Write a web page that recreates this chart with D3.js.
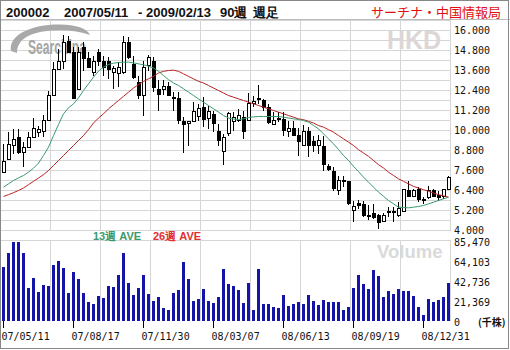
<!DOCTYPE html>
<html><head><meta charset="utf-8">
<script src="https://cdn.jsdelivr.net/npm/d3@7"></script>
<style>body{margin:0;background:#fff}svg{display:block}</style>
</head><body><svg id="c" width="510" height="350"></svg>
<script>
// ---- data ----
const opens  = [7.54,8.3,9.16,9.6,8.7,9.04,9.64,9.9,10.0,10.66,12.16,13.7,14.2,15.36,14.7,12.5,15.04,14.36,13.5,14.7,14.2,14.2,13.5,13.44,13.5,15.3,14.0,12.9,12.16,13.9,
                14.2,12.5,12.5,12.7,12.04,11.96,10.6,10.44,10.6,10.9,11.44,10.76,10.96,10.0,8.76,9.84,10.6,10.66,10.8,10.64,11.64,11.96,11.84,11.44,10.4,10.7,10.7,10.0,10.16,9.76,
                9.16,10.0,9.36,9.16,9.1,7.9,7.6,6.4,6.96,7.0,5.24,5.64,5.6,4.88,5.04,4.9,4.6,5.1,5.1,4.9,5.2,6.44,6.1,6.5,5.9,6.0,6.4,6.16,6.1,6.5];
const highs  = [9.2,9.9,10.1,10.1,9.3,9.9,10.74,10.3,10.94,12.4,14.1,14.9,15.76,15.7,15.0,15.0,15.3,14.7,14.5,14.9,14.5,14.4,13.9,14.1,15.7,15.6,14.5,13.3,14.16,14.54,
                14.4,13.04,13.04,12.9,12.3,12.3,10.8,10.6,11.7,11.6,12.0,11.5,11.2,10.4,9.8,11.1,11.1,11.3,11.2,12.24,12.1,12.74,11.9,11.6,11.1,11.1,11.1,10.6,10.6,10.16,
                10.36,10.24,9.7,9.76,9.7,8.0,7.8,7.3,7.3,7.0,5.8,5.84,5.8,5.56,5.6,5.0,5.04,5.4,5.4,5.7,6.5,7.0,6.5,6.6,6.0,6.7,6.5,6.4,6.5,7.3];
const lows   = [7.54,8.3,8.6,8.6,7.8,9.0,9.64,9.64,9.6,10.66,12.16,13.7,13.7,14.7,11.96,12.5,13.6,13.8,13.3,13.9,13.3,13.1,12.5,12.6,13.4,14.3,13.1,11.9,10.9,13.6,
                12.3,11.2,12.16,12.16,11.2,10.4,8.64,9.1,10.6,10.6,10.2,10.1,9.9,9.1,7.96,9.7,10.0,10.5,9.5,10.6,11.4,11.6,11.2,10.4,10.36,10.5,9.7,9.64,9.7,8.5,
                9.16,8.44,8.7,8.6,7.6,7.6,6.4,6.16,6.6,5.56,4.5,5.3,4.8,4.66,4.7,4.1,4.5,4.8,4.5,4.8,5.2,6.0,6.0,5.7,5.6,5.9,6.0,5.8,5.9,6.5];
const closes = [8.2,9.2,9.5,8.7,9.04,9.64,10.16,10.1,10.66,12.16,13.7,14.2,15.3,14.7,11.96,14.7,14.36,13.84,14.2,14.16,13.8,13.7,13.74,13.84,15.3,14.4,13.2,12.16,13.84,14.44,
                12.6,12.2,12.7,12.16,11.96,10.66,10.4,10.56,11.16,11.36,10.7,11.2,10.44,9.44,9.64,11.04,10.84,10.94,9.96,11.64,11.8,11.88,11.44,10.5,10.66,10.76,10.04,10.14,9.76,9.36,
                10.0,9.16,9.16,9.44,7.96,7.7,6.56,7.04,7.04,5.64,5.5,5.54,4.9,4.96,4.84,4.5,4.9,5.2,5.2,5.34,6.5,6.1,6.44,5.9,5.8,6.4,6.1,6.04,6.5,7.24];
const ma13 = [6.6,6.8,7.0,7.16,7.3,7.5,7.74,8.04,8.5,9.0,9.7,10.36,11.0,11.36,11.6,11.96,12.4,12.8,13.2,13.56,13.8,13.96,14.04,14.08,14.1,14.1,14.06,14.0,13.94,13.86,
              13.75,13.55,13.3,13.05,12.85,12.7,12.5,12.3,12.1,11.9,11.7,11.5,11.3,11.1,10.9,10.75,10.68,10.66,10.7,10.78,10.82,10.84,10.84,10.84,10.84,10.84,10.8,10.75,10.7,10.66,
              10.6,10.5,10.3,10.1,9.8,9.5,9.2,8.86,8.5,8.2,7.85,7.54,7.2,6.9,6.6,6.3,6.05,5.8,5.6,5.4,5.38,5.36,5.4,5.44,5.5,5.6,5.7,5.8,5.9,6.0];
const ma26 = [6.04,6.15,6.27,6.4,6.55,6.75,6.95,7.15,7.35,7.6,7.9,8.2,8.5,8.8,9.1,9.4,9.7,10.05,10.45,10.75,11.0,11.3,11.55,11.8,12.05,12.3,12.55,12.75,12.95,13.1,
              13.25,13.45,13.55,13.6,13.62,13.55,13.4,13.25,13.1,12.95,12.85,12.7,12.55,12.4,12.25,12.1,12.0,11.9,11.8,11.7,11.6,11.5,11.4,11.3,11.2,11.1,11.0,10.9,10.8,10.7,
              10.65,10.55,10.45,10.3,10.2,10.05,9.9,9.7,9.5,9.3,9.1,8.85,8.65,8.45,8.2,7.95,7.75,7.5,7.3,7.1,6.95,6.8,6.65,6.55,6.45,6.35,6.25,6.15,6.08,6.0];
const volumes = [57700,72300,84800,84800,72300,35600,46300,31000,38500,37400,59800,64100,56300,30300,52400,45200,30300,20300,17800,26700,24900,37400,36700,49100,73000,40200,27800,35600,49100,29200,
                 21400,25600,14200,11800,29600,33100,63400,45200,21400,23900,34500,21400,19600,25600,55900,39900,37400,33500,19200,41000,12100,55900,17800,18500,15300,14200,27800,16000,18500,20300,
                 18500,27800,21400,17100,22400,20300,20700,20300,11800,15000,35600,49100,39200,34500,54500,48100,26000,32100,29200,34500,32100,32100,26700,15300,6400,23100,20700,22400,25600,40200];
const priceTicks  = [4,5.2,6.4,7.6,8.8,10,11.2,12.4,13.6,14.8,16];
const volumeTicks = [0,21369,42736,64103,85470];
const dateLabels  = ["07/05/11","07/08/17","07/11/30","08/03/07","08/06/13","08/09/19","08/12/31"];
const dateIndex   = [0,14,28,42,56,70,84];

// ---- drawing ----
const svg = d3.select('#c');
const mono = '"DejaVu Sans Mono", monospace';
const sans = '"Liberation Sans", Arial, sans-serif';
const cjk = '"Noto Sans CJK JP", sans-serif';

const x = d3.scaleLinear().domain([0, closes.length-1]).range([3.5, 3.5 + 5*(closes.length-1)]);
const y = d3.scaleLinear().domain([4,16]).range([230.5,30.5]);
const v = d3.scaleLinear().domain([0,85470]).range([321,241]);

svg.append('rect').attr('width',510).attr('height',350).attr('fill','#fff');

// grid
const grid = svg.append('g').attr('stroke','#d6d6d6').attr('stroke-width',1).attr('shape-rendering','crispEdges');
d3.range(0,22).map(k=>4+0.6*k).forEach(p=>{
  grid.append('line').attr('x1',1).attr('x2',450.5).attr('y1',y(p)).attr('y2',y(p));
});
d3.range(1,10).forEach(k=>{
  const gx = 0.5+50*k;
  grid.append('line').attr('x1',gx).attr('x2',gx).attr('y1',20).attr('y2',230.5);
  grid.append('line').attr('x1',gx).attr('x2',gx).attr('y1',240.5).attr('y2',321);
});
grid.append('line').attr('x1',1).attr('x2',450.5).attr('y1',240.5).attr('y2',240.5);
grid.append('line').attr('x1',0.5).attr('x2',0.5).attr('y1',20).attr('y2',330).attr('stroke','#999');

// header
svg.append('line').attr('x1',0).attr('x2',510).attr('y1',19.5).attr('y2',19.5).attr('stroke','#bbb');
const hdr = svg.append('g').attr('font-family',sans).attr('font-weight','bold').attr('font-size',13).attr('fill','#111');
hdr.append('text').attr('x',6).attr('y',16.5).text('200002');
hdr.append('text').attr('x',64).attr('y',16.5).text('2007/05/11');
hdr.append('text').attr('x',138).attr('y',16.5).text('-');
hdr.append('text').attr('x',146).attr('y',16.5).text('2009/02/13');
hdr.append('text').attr('x',220).attr('y',16.5).text('90週');
hdr.append('text').attr('x',253).attr('y',16.5).text('週足');
svg.append('text').attr('x',501).attr('y',16.5).attr('text-anchor','end').attr('font-family',cjk)
  .attr('font-size',13).attr('fill','#e01010').text('サーチナ・中国情報局');

// watermarks
svg.append('path').attr('d','M11,51 C8,34 34,24 60,24.5 C76,25 87,28 90,35 C78,30.5 60,29 43,31.5 C27,34 17,41 17,53 Z').attr('fill','#a9a9a9');
svg.append('text').attr('x',28).attr('y',54).attr('font-family',sans).attr('font-weight','bold')
  .attr('font-size',20).attr('fill','#a6a6a6').attr('textLength',58).attr('lengthAdjust','spacingAndGlyphs').text('Searchina');
svg.append('text').attr('x',387).attr('y',48.5).attr('font-family',sans).attr('font-weight','bold')
  .attr('font-size',25).attr('fill','#ddd6d6').text('HKD');
svg.append('text').attr('x',377).attr('y',257.5).attr('font-family',sans).attr('font-weight','bold')
  .attr('font-size',18.5).attr('fill','#dadada').text('Volume');

// candles
const cg = svg.append('g').attr('shape-rendering','crispEdges');
closes.forEach((c,i)=>{
  const o = opens[i];
  const cx = x(i);
  cg.append('line').attr('x1',cx).attr('x2',cx).attr('y1',y(highs[i])).attr('y2',y(lows[i])).attr('stroke','#000');
  const top = Math.round(y(Math.max(o,c))), bot = Math.round(y(Math.min(o,c)));
  if (c >= o) {
    cg.append('rect').attr('x',cx-1).attr('y',top+0.5).attr('width',3).attr('height',Math.max(1,bot-top))
      .attr('fill','#fff').attr('stroke','#000');
  } else {
    cg.append('rect').attr('x',cx-1.5).attr('y',top).attr('width',4).attr('height',Math.max(1,bot-top+1)).attr('fill','#000');
  }
});

// moving averages
const line = d3.line().x((d,i)=>x(i)).y(d=>y(d));
svg.append('path').datum(ma26).attr('d',line).attr('fill','none').attr('stroke','#b82424').attr('stroke-width',1);
svg.append('path').datum(ma13).attr('d',line).attr('fill','none').attr('stroke','#3a9a6e').attr('stroke-width',1);

// legend
svg.append('text').attr('x',93).attr('y',240).attr('font-family',sans).attr('font-weight','bold').attr('font-size',11)
  .attr('fill','#3a9a6e').text('13週 AVE');
svg.append('text').attr('x',153).attr('y',240).attr('font-family',sans).attr('font-weight','bold').attr('font-size',11)
  .attr('fill','#e03030').text('26週 AVE');

// volume bars
svg.append('g').attr('shape-rendering','crispEdges').selectAll('rect').data(volumes).join('rect')
  .attr('x',(d,i)=>x(i)-1.5).attr('width',3).attr('y',d=>v(d)).attr('height',d=>v(0)-v(d)).attr('fill','#1414a8');

// right axis labels
const ax = svg.append('g').attr('font-family',mono).attr('font-size',10).attr('fill','#111');
priceTicks.forEach(p=>{
  ax.append('text').attr('x',454).attr('y',y(p)+3.5).text(d3.format(',.3f')(p));
});
volumeTicks.forEach(t=>{
  ax.append('text').attr('x',454).attr('y',v(t)+5.2).text(d3.format(',')(t));
});
svg.append('text').attr('x',478).attr('y',326).attr('font-family',cjk).attr('font-size',10).attr('font-weight','bold')
  .attr('fill','#111').text('(千株)');

// x ticks & labels
const xg = svg.append('g');
dateIndex.forEach((idx,k)=>{
  xg.append('line').attr('x1',x(idx)).attr('x2',x(idx)).attr('y1',321).attr('y2',328).attr('stroke','#000').attr('shape-rendering','crispEdges');
  xg.append('text').attr('x',x(idx)-2).attr('y',340).attr('font-family',mono).attr('font-size',10).attr('fill','#111').text(dateLabels[k]);
});

// outer border
svg.append('rect').attr('x',0.5).attr('y',0.5).attr('width',508).attr('height',348).attr('fill','none').attr('stroke','#888');
</script></body></html>
